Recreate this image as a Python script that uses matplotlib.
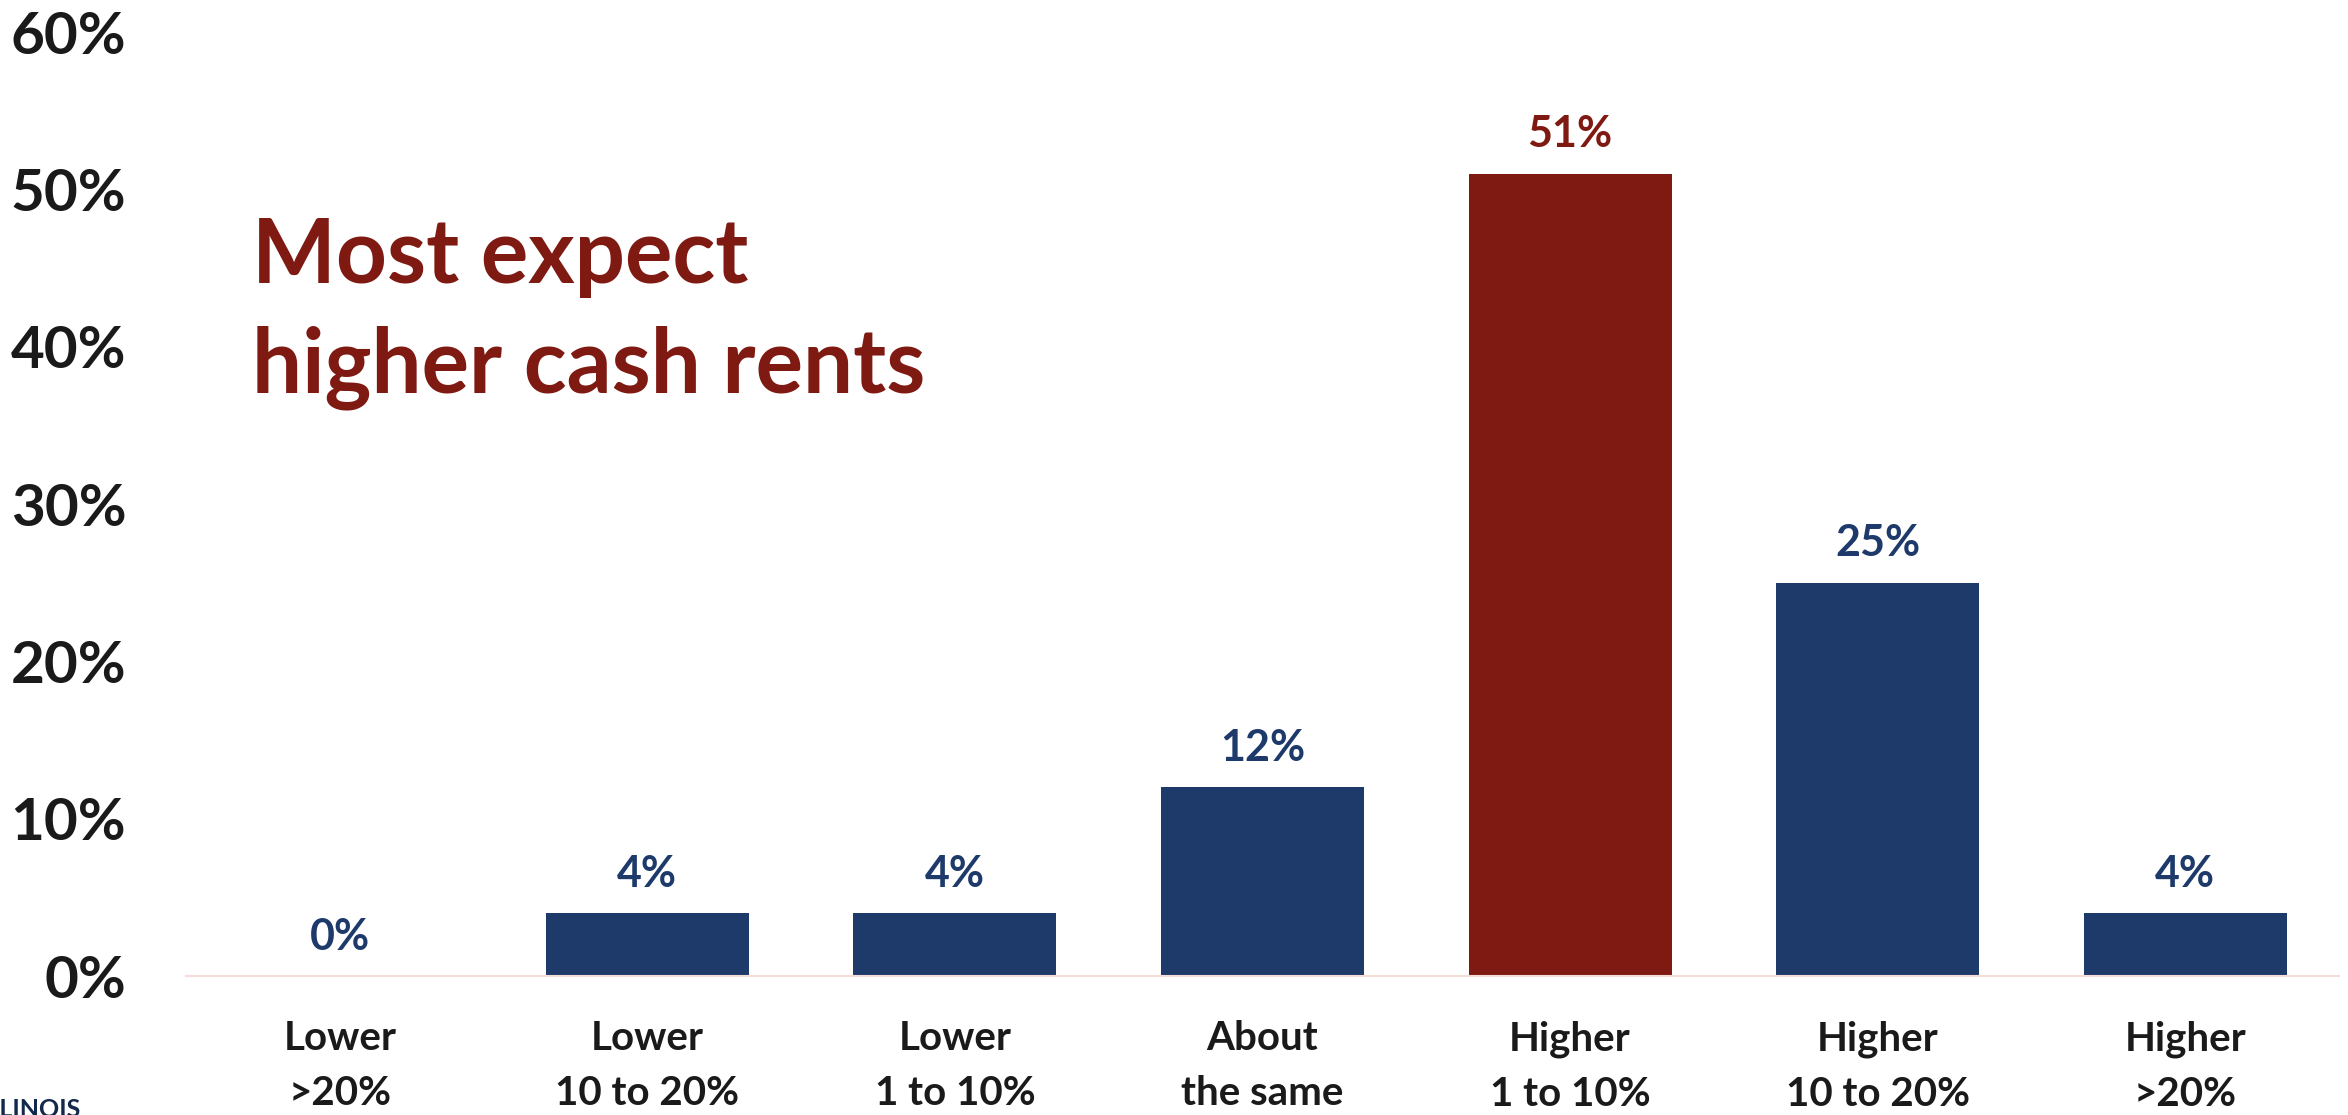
import matplotlib
matplotlib.use('Agg')
import matplotlib.pyplot as plt

# Survey responses: expected change in cash rents
categories = ['Lower\n>20%', 'Lower\n10 to 20%', 'Lower\n1 to 10%', 'About\nthe same',
              'Higher\n1 to 10%', 'Higher\n10 to 20%', 'Higher\n>20%']
shares = [0, 4, 4, 12, 51, 25, 4]
highlight = 4

NAVY = '#1D3A6B'
RED = '#7F1A12'
GRID = '#F6DED8'

plt.rcParams['font.family'] = ['Lato', 'DejaVu Sans']
plt.rcParams['font.weight'] = 'bold'

fig = plt.figure(figsize=(23.48, 11.15), dpi=100)
ax = fig.add_axes([186/2348, 1 - 976/1115, (2339 - 186)/2348, (976 - 32)/1115])

x = list(range(len(shares)))
colors = [RED if i == highlight else NAVY for i in x]
ax.bar(x, shares, width=0.66, color=colors, zorder=2)

# Value labels above each bar
for i, v in enumerate(shares):
    ax.annotate(f'{v}%', (i, v), xytext=(0, 19), textcoords='offset points',
                ha='center', va='baseline', fontsize=31, fontweight='bold',
                color=colors[i])

ax.set_xlim(-0.5, len(shares) - 0.5)
ax.set_ylim(0, 60)
ax.set_yticks(range(0, 61, 10))
ax.set_yticklabels([f'{t}%' for t in range(0, 61, 10)])
ax.tick_params(axis='y', length=0, pad=43, labelsize=42, labelcolor='#1A1A1A')
ax.set_xticks(x)
ax.set_xticklabels(categories, linespacing=1.6)
ax.tick_params(axis='x', length=0, pad=32, labelsize=29, labelcolor='#1A1A1A')

for s in ['top', 'right', 'left']:
    ax.spines[s].set_visible(False)
ax.spines['bottom'].set_color(GRID)
ax.spines['bottom'].set_linewidth(1.5)

ax.text(252/2348, 1 - 392/1115, 'Most expect\nhigher cash rents', transform=fig.transFigure,
        ha='left', va='baseline', fontsize=64, fontweight='bold', color=RED,
        linespacing=1.4)

# Partial logo text in the corner
fig.text(80/2348, 1 - 1098/1115, 'ILLINOIS', ha='right', va='top', fontsize=18,
         fontweight='bold', color='#13294B')

fig.savefig('out.png', dpi=100)
